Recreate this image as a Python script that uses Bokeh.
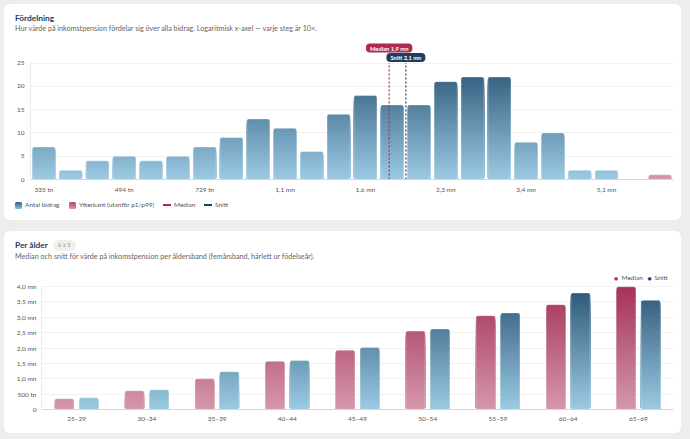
import math
import numpy as np
from bokeh.plotting import figure
from bokeh.layouts import column
from bokeh.models import ColumnDataSource, FixedTicker, Label, Range1d, FactorRange, Div
from bokeh.transform import dodge
from bokeh.embed import file_html
from bokeh.resources import INLINE

# ---------------- Fördelning (histogram, log-spaced bins) ----------------
hist_counts = [7, 2, 4, 5, 4, 5, 7, 9, 13, 11, 6, 14, 18, 16, 16, 21, 22, 22, 8, 10, 2, 2, 0, 1]
hist_outlier = [False] * 23 + [True]
hist_low = 335_000          # lower edge of first bin (kr)
hist_high = 7_520_000       # upper edge of last bin (kr)
hist_tick_bins = [0, 3, 6, 9, 12, 15, 18, 21]
hist_tick_labels = ["335 tn", "494 tn", "729 tn", "1,1 mn", "1,6 mn", "2,3 mn", "3,4 mn", "5,1 mn"]
median_value = 1_900_000
mean_value = 2_060_000

# ---------------- Per ålder ----------------
age_bands = ["25–29", "30–34", "35–39", "40–44", "45–49", "50–54", "55–59", "60–64", "65–69"]
age_median = [350_000, 610_000, 1_000_000, 1_570_000, 1_930_000, 2_550_000, 3_050_000, 3_410_000, 3_990_000]
age_mean = [380_000, 640_000, 1_230_000, 1_590_000, 2_020_000, 2_620_000, 3_140_000, 3_790_000, 3_550_000]

FONT = "Lato"
TITLE_C = "#1c3b5d"
SUB_C = "#666666"
TICK_C = "#555555"
BLUE_LO, BLUE_HI = "#9ccbe4", "#2c5576"
PINK_LO, PINK_HI = "#d598ac", "#a5335a"
MEDIAN_C = "#b3284f"
MEAN_C = "#1f3d5e"
CARD_W = 677
TITLE_SIZE = 8.3
SUB_SIZE = 7.2


def mix(c0, c1, t):
    t = max(0.0, min(1.0, t))
    a = [int(c0[i:i + 2], 16) for i in (1, 3, 5)]
    b = [int(c1[i:i + 2], 16) for i in (1, 3, 5)]
    return "#%02x%02x%02x" % tuple(round(a[k] + (b[k] - a[k]) * t) for k in range(3))


def gradient_source(xs, vals, y_max, c0, c1, step):
    """Stack of nested bars per value (tallest first) so the fill fades with height."""
    rows = []
    for x, v in zip(xs, vals):
        if v <= 0:
            continue
        for top in np.arange(v, 0, -step):
            rows.append((x, float(top), mix(c0, c1, top / y_max)))
    rows.sort(key=lambda r: -r[1])
    return ColumnDataSource(dict(x=[r[0] for r in rows], top=[r[1] for r in rows],
                                 color=[r[2] for r in rows]))


def style_axes(p):
    for ax in (p.xaxis[0], p.yaxis[0]):
        ax.major_tick_line_color = None
        ax.minor_tick_line_color = None
        ax.major_tick_out = 0
        ax.major_tick_in = 0
        ax.minor_tick_out = 0
        ax.minor_tick_in = 0
        ax.major_label_text_font = FONT
        ax.major_label_text_font_size = "6.5px"
        ax.major_label_text_color = TICK_C
    p.xaxis.axis_line_color = "#d6d6d6"
    p.yaxis.axis_line_color = "#ececec"
    p.xgrid.grid_line_color = None
    p.ygrid.grid_line_color = "#f1f1f1"
    p.outline_line_color = None
    p.background_fill_color = "white"
    p.border_fill_color = "white"
    p.frame_align = False


def span(x, y, s, size=6.5, color=SUB_C, bold=False):
    """Absolutely positioned text; y is the baseline."""
    top = y - 0.887 * size
    return (f'<span style="position:absolute;left:{x}px;top:{top:.2f}px;font-size:{size}px;'
            f'line-height:{size}px;color:{color};font-weight:{700 if bold else 400};'
            f'white-space:nowrap">{s}</span>')


def box(x, y, w, h, css):
    return (f'<span style="position:absolute;left:{x}px;top:{y}px;width:{w}px;height:{h}px;'
            f'{css}"></span>')


def html_div(height, parts):
    inner = "".join(parts)
    return Div(text=f'<div style="position:relative;width:{CARD_W}px;height:{height}px;'
                    f'font-family:Lato,sans-serif">{inner}</div>',
               width=CARD_W, height=height, margin=0)


# ================= Card 1: Fördelning =================
lo, hi = math.log10(hist_low), math.log10(hist_high)
edges = np.linspace(lo, hi, len(hist_counts) + 1)
centers = (edges[:-1] + edges[1:]) / 2
bin_w = edges[1] - edges[0]
H_TOP = 25
H_END = H_TOP * 139 / 116.5   # headroom above the top gridline for the marker badges

p1 = figure(width=CARD_W, height=163, output_backend="svg", toolbar_location=None,
            x_range=Range1d(lo, hi), y_range=Range1d(0, H_END),
            min_border_left=26, min_border_right=8, min_border_top=4, min_border_bottom=20)
style_axes(p1)
p1.yaxis.bounds = (0, H_TOP)

normal_x = [c for c, o in zip(centers, hist_outlier) if not o]
normal_v = [v for v, o in zip(hist_counts, hist_outlier) if not o]
out_x = [c for c, o in zip(centers, hist_outlier) if o]
out_v = [v for v, o in zip(hist_counts, hist_outlier) if o]

for xs, vs, g0, g1 in ((normal_x, normal_v, BLUE_LO, BLUE_HI), (out_x, out_v, PINK_LO, PINK_HI)):
    src = gradient_source(xs, vs, H_TOP, g0, g1, 0.25)
    p1.vbar(x="x", top="top", bottom=0, width=bin_w * 0.86, fill_color="color",
            line_color=None, border_radius=2, source=src)
    p1.vbar(x=xs, top=vs, bottom=0, width=bin_w * 0.86, fill_color=None,
            line_color="white", line_alpha=0.35, line_width=1, border_radius=2)

hist_ticks = [float(centers[i]) for i in hist_tick_bins]
p1.xaxis.ticker = FixedTicker(ticks=hist_ticks)
p1.xaxis.major_label_overrides = {t: s for t, s in zip(hist_ticks, hist_tick_labels)}
p1.xaxis.major_label_standoff = 6
p1.yaxis.ticker = FixedTicker(ticks=[0, 5, 10, 15, 20, 25])
p1.yaxis.major_label_standoff = 6

med_x = math.log10(median_value)
mean_x = math.log10(mean_value)
p1.segment(x0=[med_x], y0=[0], x1=[med_x], y1=[H_TOP], line_color=MEDIAN_C,
           line_dash="2 2", line_width=1.2)
p1.segment(x0=[mean_x], y0=[0], x1=[mean_x], y1=[H_TOP], line_color=MEAN_C,
           line_dash="2 2", line_width=1.2)


def mn(v):
    return f"{v / 1e6:.1f}".replace(".", ",") + " mn"


# badges sit inside the frame, above the 25 gridline (screen y from frame bottom)
for xv, sy, s, bg in ((med_x, 131.5, "Median " + mn(median_value), MEDIAN_C),
                      (mean_x, 122, "Snitt " + mn(mean_value), MEAN_C)):
    p1.add_layout(Label(x=xv, y=sy, x_units="data", y_units="screen", text=s,
                        text_font=FONT, text_font_size="5.8px", text_font_style="bold",
                        text_color="white", text_align="center", text_baseline="middle",
                        background_fill_color=bg, border_radius=4, padding=(4, 1)))

head1 = html_div(32, [
    span(11, 17, "Fördelning", size=TITLE_SIZE, color=TITLE_C, bold=True),
    span(11, 27, "Hur värde på inkomstpension fördelar sig över alla bidrag. "
                 "Logaritmisk x-axel — varje steg är 10×.", size=SUB_SIZE),
])
leg1 = html_div(21, [
    box(11, 2.5, 7, 7, "border-radius:1.5px;background:linear-gradient(#35607f,#8fc0dc)"),
    span(21, 8.3, "Antal bidrag", color=TICK_C),
    box(65, 2.5, 7, 7, "border-radius:1.5px;background:linear-gradient(#b04a6c,#d496aa)"),
    span(75, 8.3, "Ytterkant (utanför p1/p99)", color=TICK_C),
    box(159, 5.3, 8, 1.5, f"background:{MEDIAN_C}"),
    span(170, 8.3, "Median", color=TICK_C),
    box(200, 5.3, 8, 1.5, f"background:{MEAN_C}"),
    span(211, 8.3, "Snitt", color=TICK_C),
])

# ================= Card 2: Per ålder =================
A_TOP = 4_000_000
A_END = A_TOP * 139 / 123
p2 = figure(width=CARD_W, height=167, output_backend="svg", toolbar_location=None,
            x_range=FactorRange(*age_bands, range_padding=0), y_range=Range1d(0, A_END),
            min_border_left=37, min_border_right=8, min_border_top=4, min_border_bottom=24)
style_axes(p2)
p2.yaxis.bounds = (0, A_TOP)

BAR_W = 0.276
for vals, off, g0, g1 in ((age_median, -0.175, PINK_LO, PINK_HI), (age_mean, 0.175, BLUE_LO, BLUE_HI)):
    src = gradient_source(age_bands, vals, A_TOP, g0, g1, 40_000)
    p2.vbar(x=dodge("x", off, range=p2.x_range), top="top", bottom=0, width=BAR_W,
            fill_color="color", line_color=None, border_radius=2, source=src)
    osrc = ColumnDataSource(dict(x=age_bands, top=vals))
    p2.vbar(x=dodge("x", off, range=p2.x_range), top="top", bottom=0, width=BAR_W,
            fill_color=None, line_color="white", line_alpha=0.35, line_width=1,
            border_radius=2, source=osrc)

age_ticks = [0, 500_000, 1_000_000, 1_500_000, 2_000_000, 2_500_000, 3_000_000, 3_500_000, 4_000_000]


def kr_label(v):
    if v == 0:
        return "0"
    if v < 1_000_000:
        return f"{v // 1000} tn"
    return mn(v)


p2.yaxis.ticker = FixedTicker(ticks=age_ticks)
p2.yaxis.major_label_overrides = {t: kr_label(t) for t in age_ticks}
p2.yaxis.major_label_standoff = 5
p2.xaxis.major_label_standoff = 5

# series key, top right inside the frame
for sx, s, col, size in ((574.5, "●", MEDIAN_C, "7px"), (580, "Median", TICK_C, "6.5px"),
                         (608, "●", MEAN_C, "7px"), (613, "Snitt", TICK_C, "6.5px")):
    p2.add_layout(Label(x=sx, y=132, x_units="screen", y_units="screen", text=s,
                        text_font=FONT, text_font_size=size, text_color=col,
                        text_align="center" if s == "●" else "left", text_baseline="middle"))

head2 = html_div(35, [
    span(11, 17, "Per ålder", size=TITLE_SIZE, color=TITLE_C, bold=True),
    '<span style="position:absolute;left:49px;top:9px;width:23px;height:11px;'
    'border-radius:6px;background:#f1efe9;color:#8c8a82;font-size:5.5px;line-height:11px;'
    'text-align:center">k ≥ 5</span>',
    span(11, 28.5, "Median och snitt för värde på inkomstpension per åldersband "
                   "(femårsband, härlett ur födelseår).", size=SUB_SIZE),
])

card_css = {"background-color": "white", "border-radius": "6px", "overflow": "hidden"}
card1 = column(head1, p1, leg1, spacing=0, width=CARD_W, height=216, styles=card_css,
               margin=(4, 0, 0, 4))
card2 = column(head2, p2, spacing=0, width=CARD_W, height=202, styles=card_css,
               margin=(0, 0, 0, 4))

page = column(card1, card2, spacing=11, width=690, height=439,
              styles={"background-color": "#ededed"})

open("out.html", "w").write(file_html(page, INLINE))
